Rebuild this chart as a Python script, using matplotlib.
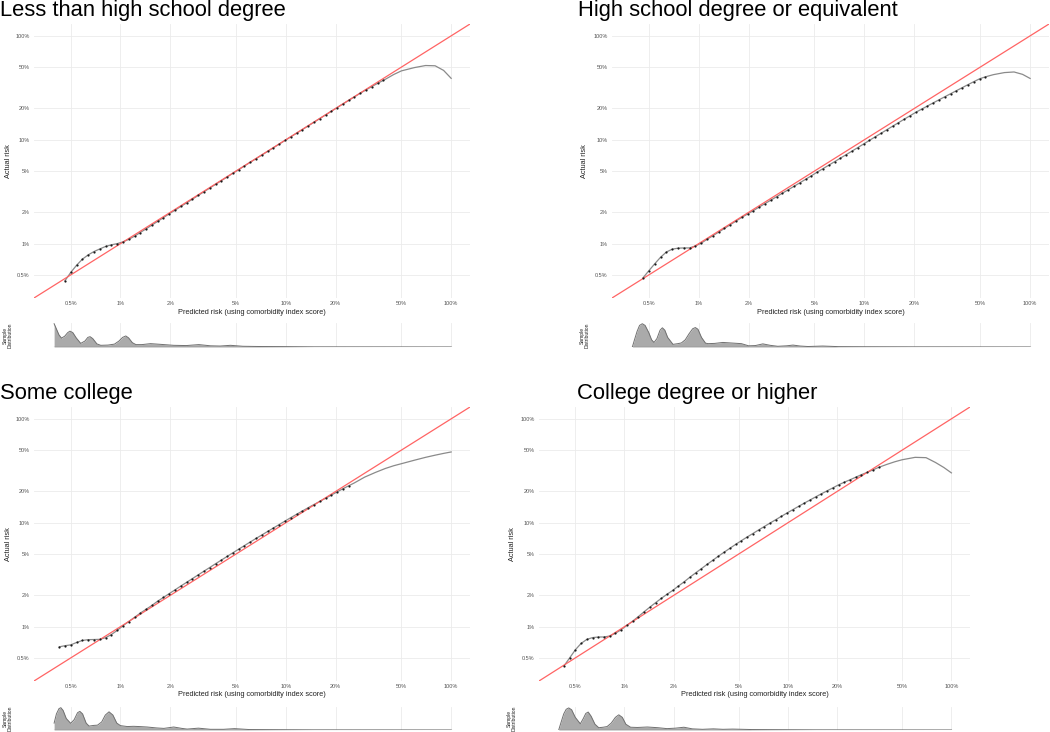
import numpy as np
import matplotlib.pyplot as plt

plt.rcParams['font.family'] = ['Liberation Sans', 'DejaVu Sans']

nan = np.nan

# predicted risk (%) of the binned points, shared by all four groups
pred_dots = [0.427, 0.462, 0.501, 0.543, 0.589, 0.638, 0.692, 0.750, 0.813, 0.881,
             0.955, 1.035, 1.122, 1.216, 1.318, 1.429, 1.549, 1.679, 1.820, 1.972,
             2.138, 2.317, 2.512, 2.723, 2.951, 3.199, 3.467, 3.758, 4.074, 4.416,
             4.786, 5.188, 5.623, 6.095, 6.607, 7.161, 7.762, 8.414, 9.120, 9.886,
             10.72, 11.61, 12.59, 13.65, 14.79, 16.03, 17.38, 18.84, 20.42, 22.13,
             23.99, 26.00, 28.18, 30.55, 33.11, 35.89, 38.90, 42.17, 45.71, 49.55,
             53.70]
# predicted risk (%) where only the smooth line continues
pred_tail = [26, 30, 35, 40, 45, 50, 60, 70, 80, 90, 100]

# actual risk (%) - less than high school
less_hs_dots = [nan, 0.44, 0.53, 0.62, 0.71, 0.78, 0.84, 0.89, 0.94, 0.975,
                1.00, 1.04, 1.10, 1.18, 1.28, 1.39, 1.51, 1.64, 1.78, 1.94,
                2.10, 2.28, 2.47, 2.68, 2.91, 3.16, 3.43, 3.72, 4.04, 4.38,
                4.76, 5.16, 5.60, 6.07, 6.58, 7.13, 7.73, 8.38, 9.08, 9.84,
                10.67, 11.56, 12.53, 13.59, 14.73, 15.98, 17.33, 18.80, 20.38, 22.10,
                23.95, 25.90, 28.00, 30.20, 32.50, 34.90, 37.30, nan, nan, nan,
                nan]
less_hs_tail = [nan, nan, nan, 38.2, 42.5, 46.0, 49.5, 51.8, 51.5, 46.5, 39.0]

# high school degree
hs_dots = [nan, 0.47, 0.55, 0.64, 0.74, 0.83, 0.885, 0.905, 0.91, 0.91,
           0.95, 1.01, 1.10, 1.19, 1.29, 1.40, 1.52, 1.65, 1.79, 1.93,
           2.08, 2.25, 2.43, 2.62, 2.83, 3.06, 3.30, 3.56, 3.85, 4.16,
           4.50, 4.88, 5.27, 5.69, 6.15, 6.65, 7.19, 7.77, 8.40, 9.10,
           9.85, 10.66, 11.53, 12.48, 13.49, 14.57, 15.75, 17.01, 18.36, 19.70,
           21.11, 22.62, 24.23, 25.91, 27.71, 29.65, 31.70, 33.90, 36.20, 38.60,
           40.30]
hs_tail = [nan, nan, nan, nan, nan, nan, 42.3, 44.3, 44.9, 42.6, 38.9]

# some college
some_col_dots = [0.64, 0.656, 0.668, 0.705, 0.737, 0.75, 0.752, 0.755, 0.783, 0.84,
                 0.92, 1.02, 1.12, 1.23, 1.35, 1.47, 1.60, 1.76, 1.91, 2.08,
                 2.26, 2.46, 2.67, 2.90, 3.15, 3.42, 3.71, 4.03, 4.37, 4.74,
                 5.14, 5.57, 6.03, 6.53, 7.06, 7.63, 8.24, 8.90, 9.61, 10.38,
                 11.20, 12.05, 12.97, 13.95, 14.97, 16.03, 17.21, 18.46, 19.81, 21.24,
                 22.67, nan, nan, nan, nan, nan, nan, nan, nan, nan,
                 nan]
some_col_tail = [24.2, 27.5, 30.6, 33.3, 35.4, 37.0, 40.0, 42.6, 44.7, 46.5, 48.0]

# college degree or higher
college_dots = [0.42, 0.50, 0.60, 0.69, 0.755, 0.785, 0.795, 0.796, 0.813, 0.865,
                0.935, 1.03, 1.13, 1.25, 1.39, 1.54, 1.70, 1.87, 2.05, 2.23,
                2.46, 2.70, 2.99, 3.29, 3.61, 3.97, 4.35, 4.77, 5.21, 5.68,
                6.19, 6.72, 7.28, 7.87, 8.51, 9.19, 9.92, 10.69, 11.53, 12.43,
                13.38, 14.37, 15.44, 16.56, 17.75, 19.00, 20.30, 21.67, 23.18, 24.56,
                25.91, 27.43, 29.03, 30.55, 32.28, 34.10, nan, nan, nan, nan,
                nan]
college_tail = [nan, nan, nan, 36.3, 38.6, 40.4, 42.6, 42.3, 38.0, 34.0, 30.2]

# sample distribution (density, scaled to 1)
less_hs_dens_x = [0.397, 0.41, 0.425, 0.44, 0.46, 0.48, 0.495, 0.515, 0.54, 0.575,
                  0.61, 0.635, 0.655, 0.68, 0.72, 0.76, 0.84, 0.92, 0.98, 1.03,
                  1.077, 1.12, 1.18, 1.24, 1.35, 1.52, 1.75, 2.1, 2.5, 2.98,
                  3.5, 4.0, 4.63, 5.5, 7.0, 10.0, 15.0, 100.0]
less_hs_dens = [0.97, 0.75, 0.5, 0.37, 0.45, 0.6, 0.66, 0.6, 0.38, 0.15,
                0.25, 0.4, 0.43, 0.35, 0.13, 0.07, 0.08, 0.12, 0.25, 0.4,
                0.46, 0.38, 0.18, 0.1, 0.1, 0.14, 0.11, 0.07, 0.06, 0.1,
                0.05, 0.04, 0.07, 0.03, 0.02, 0.015, 0.005, 0.0]

hs_dens_x = [0.398, 0.41, 0.425, 0.44, 0.457, 0.475, 0.50, 0.52, 0.538, 0.56,
             0.585, 0.604, 0.625, 0.65, 0.70, 0.75, 0.787, 0.83, 0.875, 0.92,
             0.955, 0.99, 1.04, 1.1, 1.14, 1.25, 1.40, 1.55, 1.81, 2.0,
             2.2, 2.44, 2.7, 3.0, 3.4, 3.71, 4.1, 4.57, 5.6, 7.0,
             10.0, 20.0, 100.0]
hs_dens = [0.0, 0.3, 0.65, 0.9, 0.97, 0.9, 0.6, 0.3, 0.19, 0.35,
           0.7, 0.8, 0.7, 0.4, 0.11, 0.14, 0.17, 0.3, 0.55, 0.76,
           0.81, 0.74, 0.4, 0.16, 0.14, 0.15, 0.19, 0.17, 0.14, 0.05,
           0.06, 0.13, 0.07, 0.03, 0.05, 0.08, 0.04, 0.02, 0.04, 0.015,
           0.01, 0.005, 0.0]

some_col_dens_x = [0.397, 0.41, 0.425, 0.436, 0.45, 0.47, 0.50, 0.525, 0.55, 0.568,
                   0.59, 0.62, 0.646, 0.69, 0.726, 0.77, 0.81, 0.853, 0.9, 0.95,
                   1.0, 1.1, 1.2, 1.3, 1.45, 1.65, 1.83, 2.1, 2.35, 2.53,
                   2.96, 3.5, 4.2, 4.9, 6.0, 8.0, 15.0, 100.0]
some_col_dens = [0.3, 0.7, 0.93, 0.97, 0.85, 0.5, 0.29, 0.45, 0.75, 0.81,
                 0.7, 0.3, 0.17, 0.2, 0.21, 0.35, 0.65, 0.79, 0.65, 0.3,
                 0.19, 0.15, 0.16, 0.15, 0.13, 0.09, 0.07, 0.13, 0.07, 0.04,
                 0.08, 0.03, 0.03, 0.06, 0.02, 0.015, 0.005, 0.0]

college_dens_x = [0.396, 0.41, 0.425, 0.44, 0.456, 0.475, 0.50, 0.537, 0.56, 0.58,
                  0.60, 0.625, 0.66, 0.696, 0.74, 0.783, 0.83, 0.88, 0.923, 0.97,
                  1.02, 1.09, 1.2, 1.38, 1.6, 1.82, 2.05, 2.31, 2.6, 3.0,
                  3.5, 4.0, 4.6, 6.0, 8.0, 15.0, 100.0]
college_dens = [0.0, 0.35, 0.7, 0.9, 0.96, 0.88, 0.55, 0.27, 0.5, 0.72,
                0.78, 0.6, 0.25, 0.1, 0.12, 0.15, 0.3, 0.55, 0.66, 0.55,
                0.25, 0.12, 0.11, 0.13, 0.1, 0.06, 0.08, 0.12, 0.05, 0.03,
                0.05, 0.03, 0.04, 0.02, 0.015, 0.005, 0.0]

titles = ['Less than high school degree', 'High school degree or equivalent',
          'Some college', 'College degree or higher']
tick_values = [0.5, 1, 2, 5, 10, 20, 50, 100]
tick_labels = ['0.5%', '1%', '2%', '5%', '10%', '20%', '50%', '100%']

W, H = 1050, 732
fig = plt.figure(figsize=(W / 100, H / 100), dpi=100)


def px_axes(left, right, top, bottom):
    return fig.add_axes([left / W, 1 - bottom / H, (right - left) / W, (bottom - top) / H])


# (left, right, top, bottom) of main plot, (top, bottom) of density, title x, title baseline, label x
layout = [
    ((34, 470, 24, 298), (323, 347), 0, 16, 8),
    ((612, 1049, 24, 298), (323, 347), 578, 16, 585),
    ((34, 470, 407, 681), (707, 730), 0, 399, 8),
    ((539, 970, 407, 681), (707, 730), 577, 399, 512),
]

groups = [
    (less_hs_dots, less_hs_tail, less_hs_dens_x, less_hs_dens),
    (hs_dots, hs_tail, hs_dens_x, hs_dens),
    (some_col_dots, some_col_tail, some_col_dens_x, some_col_dens),
    (college_dots, college_tail, college_dens_x, college_dens),
]

lims = (0.3, 130)
grid_col = '#ebebeb'

for title, (dots, tail, dx, dh), (box, dbox, tx, ty, lx) in zip(titles, groups, layout):
    left, right, top, bottom = box
    ax = px_axes(left, right, top, bottom)
    ax.set_xscale('log')
    ax.set_yscale('log')
    ax.set_xlim(lims)
    ax.set_ylim(lims)

    xd = np.array(pred_dots)
    yd = np.array(dots, dtype=float)
    xt = np.array(pred_tail, dtype=float)
    yt = np.array(tail, dtype=float)
    keep_d = ~np.isnan(yd)
    keep_t = ~np.isnan(yt)
    line_x = np.concatenate([xd[keep_d], xt[keep_t]])
    line_y = np.concatenate([yd[keep_d], yt[keep_t]])

    ax.plot(line_x, line_y, color='#8a8a8a', lw=0.9, zorder=2)
    ax.plot(lims, lims, color='#ff6464', lw=0.9, zorder=3)
    ax.plot(xd[keep_d], yd[keep_d], 'o', color='#1a1a1a', ms=1.6, mew=0, zorder=4)

    ax.set_xticks(tick_values)
    ax.set_xticklabels(tick_labels)
    ax.set_yticks(tick_values)
    ax.set_yticklabels(tick_labels)
    ax.minorticks_off()
    ax.grid(True, color=grid_col, lw=0.6)
    ax.set_axisbelow(True)
    ax.tick_params(length=0, labelsize=4, labelcolor='#555555')
    ax.tick_params(axis='x', pad=2.5)
    ax.tick_params(axis='y', pad=3)
    for s in ax.spines.values():
        s.set_visible(False)

    fig.text((left + right) / 2 / W, 1 - (bottom + 14) / H,
             'Predicted risk (using comorbidity index score)',
             ha='center', va='center', fontsize=5.3, color='#222222')
    fig.text(lx / W, 1 - (top + bottom) / 2 / H, 'Actual risk', rotation=90,
             ha='center', va='center', fontsize=5.3, color='#222222')
    fig.text(tx / W, 1 - ty / H, title, ha='left', va='baseline',
             fontsize=15.8, color='black')

    # sample distribution strip
    dtop, dbottom = dbox
    axd = px_axes(left, right, dtop, dbottom)
    axd.set_xscale('log')
    axd.set_xlim(lims)
    axd.set_ylim(0, 1.0)
    axd.fill_between(dx, 0, dh, color='#aaaaaa', lw=0)
    axd.plot(dx, dh, color='#707070', lw=0.7)
    axd.plot([dx[0], dx[-1]], [0, 0], color='#707070', lw=0.9)
    axd.set_xticks(tick_values)
    axd.minorticks_off()
    axd.set_yticks([])
    axd.grid(True, axis='x', color=grid_col, lw=0.6)
    axd.set_axisbelow(True)
    axd.tick_params(length=0, labelbottom=False)
    for s in axd.spines.values():
        s.set_visible(False)
    fig.text(lx / W, 1 - (dtop + dbottom) / 2 / H, 'Sample\nDistribution', rotation=90,
             ha='center', va='center', fontsize=3.6, color='#222222', linespacing=0.9)

fig.savefig('out.png', dpi=100)
